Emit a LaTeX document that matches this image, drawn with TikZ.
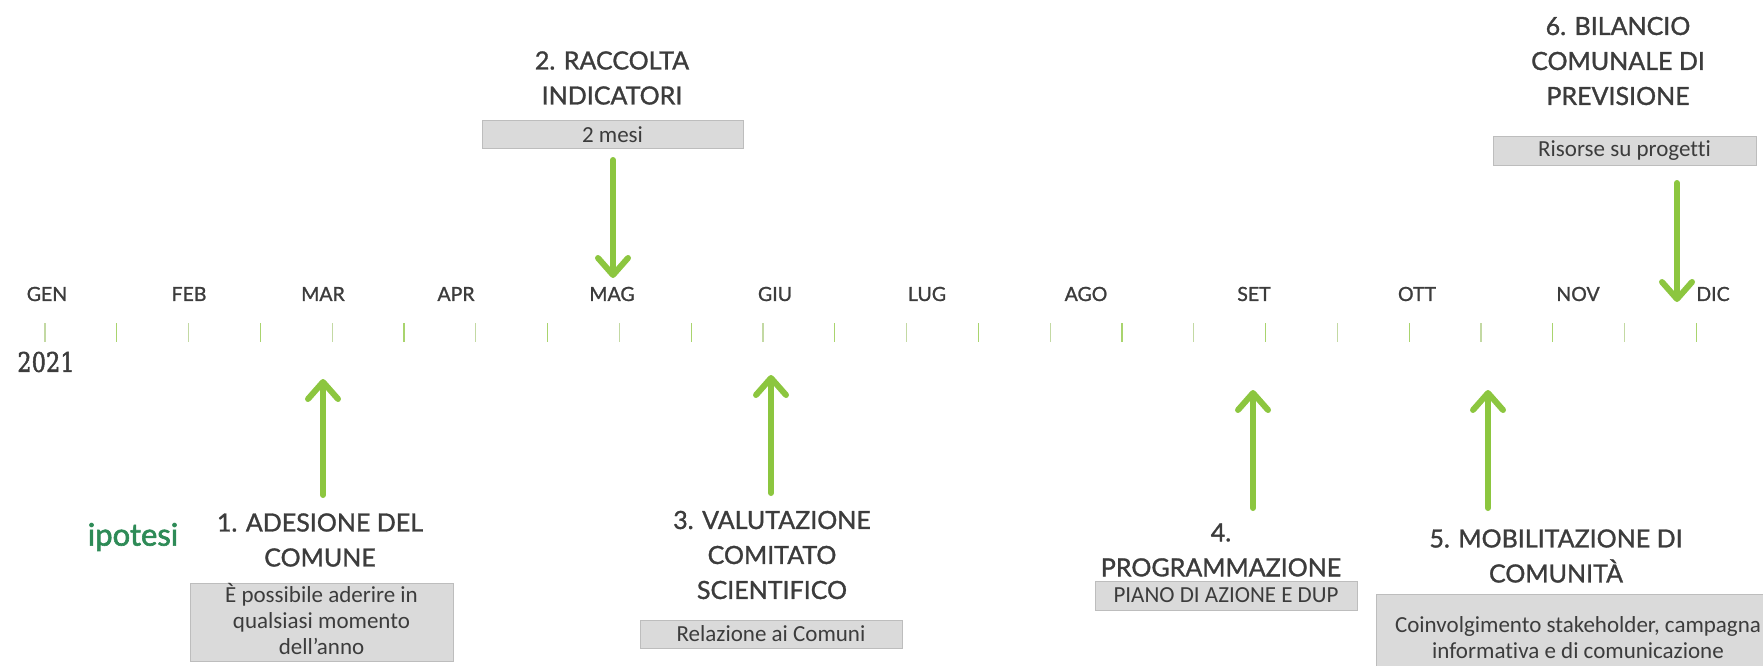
\documentclass[tikz,border=0pt]{standalone}
\usepackage{fontspec}
\setmainfont{Lato}
\newfontfamily\titlefont[FakeBold=1.2]{Lato}
\newfontfamily\ipofont[FakeBold=2]{Lato}
\newfontfamily\boxfont[Ligatures=NoCommon]{Carlito}
\newfontfamily\yearfont[FakeBold=2]{DejaVu Serif}
\usetikzlibrary{arrows.meta}
\definecolor{agreen}{HTML}{8CC63F}
\definecolor{tgray}{HTML}{3C3C3C}
\definecolor{ipog}{HTML}{2E8B57}
\definecolor{tickA}{HTML}{A9D46E}
\definecolor{tickB}{HTML}{D5DDC6}
\definecolor{boxfill}{HTML}{DADADA}
\definecolor{boxline}{HTML}{BDBDBD}
\begin{document}
\begin{tikzpicture}[x=1pt,y=-1pt,
  title/.style={text=tgray, font=\titlefont\fontsize{25}{35}\selectfont, align=center, inner sep=0pt},
  month/.style={text=tgray, font=\titlefont\fontsize{19.5}{21}\selectfont, inner sep=0pt},
  gbox/.style={fill=boxfill, draw=boxline, line width=1pt, text=tgray, font=\boxfont\fontsize{23}{26}\selectfont, align=center, inner sep=0pt},
  gtext/.style={text=tgray, font=\boxfont\fontsize{23}{26}\selectfont, align=center, inner sep=0pt},
  arr/.style={draw=agreen, line width=6pt, line cap=round, -{Straight Barb[length=17pt,width=30pt,line join=round,line cap=round]}},
  tickmark/.style={line width=1.3pt}]
\useasboundingbox (0,0) rectangle (1763,666);
% ticks
\foreach \i in {0,...,23}{
  \pgfmathsetmacro{\tx}{45+71.8*\i}
  \ifodd\i
    \draw[tickmark, draw=tickA] (\tx,323) -- (\tx,342);
  \else
    \draw[tickmark, draw=tickB!60!tickA] (\tx,323) -- (\tx,342);
  \fi
}
% months
\node[month] (mGEN) at (47,294) {GEN};
\node[month] (mFEB) at (189,294) {FEB};
\node[month] (mMAR) at (323,294) {MAR};
\node[month] (mAPR) at (456,294) {APR};
\node[month] (mMAG) at (612,294) {MAG};
\node[month] (mGIU) at (775,294) {GIU};
\node[month] (mLUG) at (927,294) {LUG};
\node[month] (mAGO) at (1086,294) {AGO};
\node[month] (mSET) at (1254,294) {SET};
\node[month] (mOTT) at (1417,294) {OTT};
\node[month] (mNOV) at (1578,294) {NOV};
\node[month] (mDIC) at (1713,294) {DIC};
\node[text=tgray, font=\yearfont\fontsize{22.5}{26}\selectfont, inner sep=0pt] (year) at (46,362) {\scalebox{1}[1.2]{2021}};
\node[text=ipog, font=\ipofont\fontsize{31}{34}\selectfont, inner sep=0pt] (ipo) at (133,537) {ipotesi};
% titles
\node[title] (t1) at (320,540) {1. ADESIONE DEL\\COMUNE};
\node[title] (t2) at (612,78) {2. RACCOLTA\\INDICATORI};
\node[title] (t3) at (772,555) {3. VALUTAZIONE\\COMITATO\\SCIENTIFICO};
\node[title] (t4) at (1221,550) {4.\\PROGRAMMAZIONE};
\node[title] (t5) at (1556,556) {5. MOBILITAZIONE DI\\COMUNIT\`A};
\node[title] (t6) at (1618,61) {6. BILANCIO\\COMUNALE DI\\PREVISIONE};
% boxes
\node[gbox, minimum width=263pt, minimum height=78pt] (b1) at (321.5,622) {};
\node[gtext] (b1t) at (321.5,619) {\`E possibile aderire in\\qualsiasi momento\\dell’anno};
\node[gbox, minimum width=261pt, minimum height=27pt] (b2) at (612.5,134.5) {2 mesi};
\node[gbox, minimum width=262pt, minimum height=28pt] (b3) at (771,634) {Relazione ai Comuni};
\node[gbox, minimum width=262pt, minimum height=29pt] (b4) at (1226,595.5) {PIANO DI AZIONE E DUP};
\node[gbox, minimum width=404pt, minimum height=96pt] (b5) at (1578,642) {};
\node[gtext] (b5t) at (1578,638) {Coinvolgimento stakeholder, campagna\\informativa e di comunicazione};
\node[gbox, minimum width=263pt, minimum height=29pt] (b6) at (1624.5,150.5) {Risorse su progetti};
% arrow ends
\coordinate (a1s) at (323,495); \coordinate (a1e) at (323,379);
\coordinate (a2s) at (613,160); \coordinate (a2e) at (613,278);
\coordinate (a3s) at (771,493); \coordinate (a3e) at (771,375);
\coordinate (a4s) at (1253,508); \coordinate (a4e) at (1253,390);
\coordinate (a5s) at (1488,508); \coordinate (a5e) at (1488,390);
\coordinate (a6s) at (1677,183); \coordinate (a6e) at (1677,302);
\draw[arr] (a1s) -- (a1e);
\draw[arr] (a2s) -- (a2e);
\draw[arr] (a3s) -- (a3e);
\draw[arr] (a4s) -- (a4e);
\draw[arr] (a5s) -- (a5e);
\draw[arr] (a6s) -- (a6e);
\end{tikzpicture}
\end{document}
